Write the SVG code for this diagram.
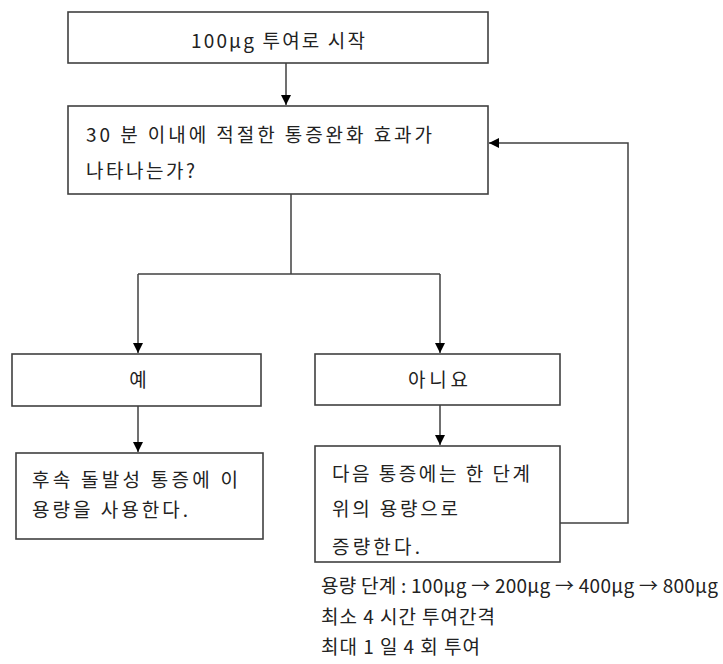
<svg xmlns="http://www.w3.org/2000/svg" width="723" height="664" viewBox="0 0 723 664">
<style>
.box{fill:#fff;stroke:#404040;stroke-width:1.6}
.ln{fill:none;stroke:#404040;stroke-width:1.5}
text{font-family:"Noto Sans CJK KR","Noto Sans",sans-serif;font-size:19px;fill:#222}
.c{text-anchor:middle}
</style>
<defs>
<marker id="ah" viewBox="0 0 10 10" refX="10" refY="5" markerWidth="10" markerHeight="10" markerUnits="userSpaceOnUse" orient="auto">
<path d="M0,0 L10,5 L0,10 Z" fill="#000"/>
</marker>
</defs>
<rect width="723" height="664" fill="#fff"/>
<g id="connectors">
<line class="ln" x1="286" y1="63" x2="286" y2="105" marker-end="url(#ah)"/>
<polyline class="ln" points="291,194 291,274"/>
<polyline class="ln" points="138,274 440,274"/>
<line class="ln" x1="138" y1="274" x2="138" y2="353" marker-end="url(#ah)"/>
<line class="ln" x1="440" y1="274" x2="440" y2="353" marker-end="url(#ah)"/>
<line class="ln" x1="138" y1="406" x2="138" y2="452" marker-end="url(#ah)"/>
<line class="ln" x1="440" y1="405" x2="440" y2="445" marker-end="url(#ah)"/>
<polyline class="ln" points="560,523 628,523 628,143 489,143" marker-end="url(#ah)"/>
</g>
<g id="start">
<rect class="box" x="68" y="12" width="420" height="51"/>
<text class="c" x="278" y="48" textLength="174">100μg 투여로 시작</text>
</g>
<g id="question">
<rect class="box" x="68" y="106" width="420" height="88"/>
<text x="86" y="142" textLength="346">30 분 이내에 적절한 통증완화 효과가</text>
<text x="86" y="178" textLength="109">나타나는가?</text>
</g>
<g id="yes">
<rect class="box" x="12" y="354" width="249" height="52"/>
<text class="c" x="138" y="387">예</text>
</g>
<g id="no">
<rect class="box" x="315" y="354" width="245" height="51"/>
<text class="c" x="438" y="387" textLength="60">아니요</text>
</g>
<g id="yes-action">
<rect class="box" x="16" y="453" width="247" height="86"/>
<text x="32" y="487" textLength="206">후속 돌발성 통증에 이</text>
<text x="32" y="517" textLength="156">용량을 사용한다.</text>
</g>
<g id="no-action">
<rect class="box" x="315" y="446" width="245" height="116"/>
<text x="332" y="481" textLength="198">다음 통증에는 한 단계</text>
<text x="332" y="516" textLength="126">위의 용량으로</text>
<text x="332" y="554" textLength="88">증량한다.</text>
</g>
<g id="notes">
<text x="321" y="593" textLength="397">용량 단계 : 100μg → 200μg → 400μg → 800μg</text>
<text x="321" y="624" textLength="174">최소 4 시간 투여간격</text>
<text x="321" y="654" textLength="159">최대 1 일 4 회 투여</text>
</g>
</svg>
